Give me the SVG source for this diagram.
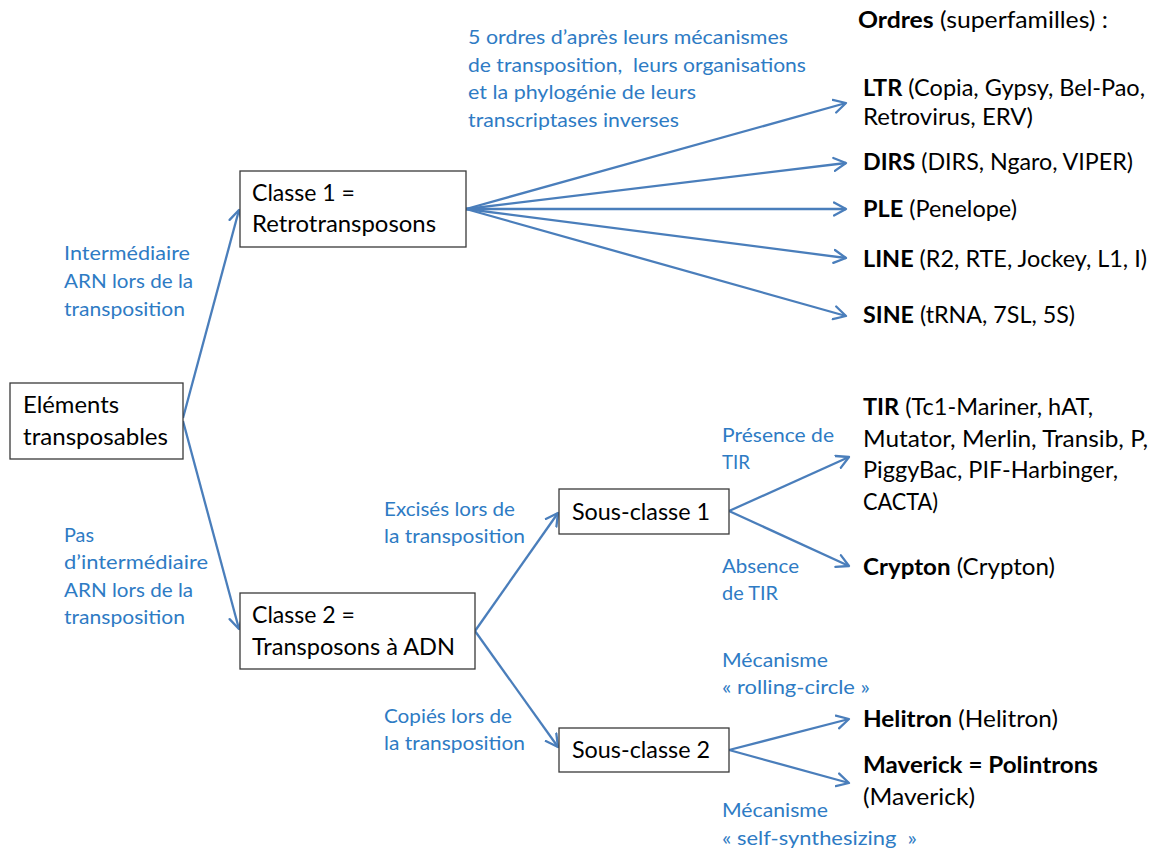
<svg xmlns="http://www.w3.org/2000/svg" width="1155" height="849" viewBox="0 0 1155 849">
  <style>
    .box { fill: #ffffff; stroke: #3a3a3a; stroke-width: 1.3; }
    .t { font-family: Lato, "Open Sans", "Liberation Sans", sans-serif; font-size: 23.5px; fill: #000000; }
    .b { font-weight: bold; }
    .lab { font-family: Lato, "Open Sans", "Liberation Sans", sans-serif; font-size: 20px; fill: #2E7BC4; }
    .conn { stroke: #4A7EBB; stroke-width: 2.3; fill: none; }
  </style>
  <defs>
    <marker id="arrow" markerUnits="userSpaceOnUse" markerWidth="16" markerHeight="16" refX="13" refY="8" orient="auto">
      <path d="M1,1.5 L13,8 L1,14.5" fill="none" stroke="#4A7EBB" stroke-width="2.3" stroke-linecap="round" stroke-linejoin="round"/>
    </marker>
  </defs>
  <rect width="1155" height="849" fill="#ffffff"/>

  <!-- connectors -->
  <g id="connectors" class="conn" marker-end="url(#arrow)">
    <line x1="183" y1="418" x2="239" y2="210"/>
    <line x1="183" y1="421" x2="239" y2="629"/>
    <line x1="466" y1="209" x2="846" y2="103"/>
    <line x1="466" y1="209" x2="846" y2="163"/>
    <line x1="466" y1="209" x2="846" y2="209"/>
    <line x1="466" y1="209" x2="846" y2="258"/>
    <line x1="466" y1="209" x2="846" y2="316"/>
    <line x1="475" y1="631" x2="558" y2="513"/>
    <line x1="475" y1="631" x2="558" y2="747"/>
    <line x1="729" y1="511" x2="849" y2="457"/>
    <line x1="729" y1="511" x2="849" y2="566"/>
    <line x1="729" y1="750" x2="849" y2="719"/>
    <line x1="729" y1="750" x2="849" y2="783"/>
  </g>

  <!-- nodes -->
  <g id="elements">
    <rect class="box" x="10" y="383" width="173" height="76"/>
    <text class="t" x="23" y="413" textLength="96" lengthAdjust="spacingAndGlyphs">Eléments</text>
    <text class="t" x="23" y="445" textLength="145" lengthAdjust="spacingAndGlyphs">transposables</text>
  </g>

  <g id="classe1">
    <rect class="box" x="240" y="171" width="226" height="76"/>
    <text class="t" x="252" y="201" textLength="103" lengthAdjust="spacingAndGlyphs">Classe 1 =</text>
    <text class="t" x="252" y="232" textLength="184" lengthAdjust="spacingAndGlyphs">Retrotransposons</text>
  </g>

  <g id="classe2">
    <rect class="box" x="240" y="593" width="235" height="76"/>
    <text class="t" x="252" y="623" textLength="103" lengthAdjust="spacingAndGlyphs">Classe 2 =</text>
    <text class="t" x="252" y="655" textLength="203" lengthAdjust="spacingAndGlyphs">Transposons à ADN</text>
  </g>

  <g id="sousclasse1">
    <rect class="box" x="559" y="489" width="170" height="45"/>
    <text class="t" x="572" y="520" textLength="138" lengthAdjust="spacingAndGlyphs">Sous-classe 1</text>
  </g>

  <g id="sousclasse2">
    <rect class="box" x="559" y="728" width="170" height="44"/>
    <text class="t" x="572" y="758" textLength="138" lengthAdjust="spacingAndGlyphs">Sous-classe 2</text>
  </g>

  <!-- orders -->
  <g id="ordres-titre">
    <text class="t" x="858" y="28" textLength="250" lengthAdjust="spacingAndGlyphs"><tspan class="b">Ordres</tspan> (superfamilles) :</text>
  </g>
  <g id="ltr">
    <text class="t" x="863" y="96" textLength="282" lengthAdjust="spacingAndGlyphs"><tspan class="b">LTR</tspan> (Copia, Gypsy, Bel-Pao,</text>
    <text class="t" x="863" y="125" textLength="170" lengthAdjust="spacingAndGlyphs">Retrovirus, ERV)</text>
  </g>
  <g id="dirs">
    <text class="t" x="863" y="170" textLength="270" lengthAdjust="spacingAndGlyphs"><tspan class="b">DIRS</tspan> (DIRS, Ngaro, VIPER)</text>
  </g>
  <g id="ple">
    <text class="t" x="863" y="217" textLength="154" lengthAdjust="spacingAndGlyphs"><tspan class="b">PLE</tspan> (Penelope)</text>
  </g>
  <g id="line">
    <text class="t" x="863" y="267" textLength="284" lengthAdjust="spacingAndGlyphs"><tspan class="b">LINE</tspan> (R2, RTE, Jockey, L1, I)</text>
  </g>
  <g id="sine">
    <text class="t" x="863" y="323" textLength="212" lengthAdjust="spacingAndGlyphs"><tspan class="b">SINE</tspan> (tRNA, 7SL, 5S)</text>
  </g>
  <g id="tir">
    <text class="t" x="863" y="415" textLength="230" lengthAdjust="spacingAndGlyphs"><tspan class="b">TIR</tspan> (Tc1-Mariner, hAT,</text>
    <text class="t" x="863" y="447" textLength="285" lengthAdjust="spacingAndGlyphs">Mutator, Merlin, Transib, P,</text>
    <text class="t" x="863" y="478" textLength="255" lengthAdjust="spacingAndGlyphs">PiggyBac, PIF-Harbinger,</text>
    <text class="t" x="863" y="510" textLength="75" lengthAdjust="spacingAndGlyphs">CACTA)</text>
  </g>
  <g id="crypton">
    <text class="t" x="863" y="575" textLength="192" lengthAdjust="spacingAndGlyphs"><tspan class="b">Crypton</tspan> (Crypton)</text>
  </g>
  <g id="helitron">
    <text class="t" x="863" y="727" textLength="195" lengthAdjust="spacingAndGlyphs"><tspan class="b">Helitron</tspan> (Helitron)</text>
  </g>
  <g id="maverick">
    <text class="t b" x="863" y="773" textLength="235" lengthAdjust="spacingAndGlyphs">Maverick = Polintrons</text>
    <text class="t" x="863" y="805" textLength="112" lengthAdjust="spacingAndGlyphs">(Maverick)</text>
  </g>

  <!-- edge labels -->
  <g id="labels">
    <text class="lab" x="468" y="44" textLength="320" lengthAdjust="spacingAndGlyphs">5 ordres d’après leurs mécanismes</text>
    <text class="lab" x="468" y="72" textLength="338" lengthAdjust="spacingAndGlyphs">de transposition,&#160; leurs organisations</text>
    <text class="lab" x="468" y="99" textLength="228" lengthAdjust="spacingAndGlyphs">et la phylogénie de leurs</text>
    <text class="lab" x="468" y="127" textLength="211" lengthAdjust="spacingAndGlyphs">transcriptases inverses</text>

    <text class="lab" x="64" y="260" textLength="126" lengthAdjust="spacingAndGlyphs">Intermédiaire</text>
    <text class="lab" x="64" y="288" textLength="129" lengthAdjust="spacingAndGlyphs">ARN lors de la</text>
    <text class="lab" x="64" y="316" textLength="121" lengthAdjust="spacingAndGlyphs">transposition</text>

    <text class="lab" x="64" y="542" textLength="30" lengthAdjust="spacingAndGlyphs">Pas</text>
    <text class="lab" x="64" y="569" textLength="144" lengthAdjust="spacingAndGlyphs">d’intermédiaire</text>
    <text class="lab" x="64" y="597" textLength="129" lengthAdjust="spacingAndGlyphs">ARN lors de la</text>
    <text class="lab" x="64" y="624" textLength="121" lengthAdjust="spacingAndGlyphs">transposition</text>

    <text class="lab" x="384" y="516" textLength="131" lengthAdjust="spacingAndGlyphs">Excisés lors de</text>
    <text class="lab" x="384" y="543" textLength="141" lengthAdjust="spacingAndGlyphs">la transposition</text>

    <text class="lab" x="384" y="723" textLength="128" lengthAdjust="spacingAndGlyphs">Copiés lors de</text>
    <text class="lab" x="384" y="750" textLength="141" lengthAdjust="spacingAndGlyphs">la transposition</text>

    <text class="lab" x="722" y="442" textLength="112" lengthAdjust="spacingAndGlyphs">Présence de</text>
    <text class="lab" x="722" y="469" textLength="28" lengthAdjust="spacingAndGlyphs">TIR</text>

    <text class="lab" x="722" y="573" textLength="77" lengthAdjust="spacingAndGlyphs">Absence</text>
    <text class="lab" x="722" y="600" textLength="56" lengthAdjust="spacingAndGlyphs">de TIR</text>

    <text class="lab" x="722" y="667" textLength="106" lengthAdjust="spacingAndGlyphs">Mécanisme</text>
    <text class="lab" x="722" y="694" textLength="148" lengthAdjust="spacingAndGlyphs">« rolling-circle »</text>

    <text class="lab" x="722" y="817" textLength="106" lengthAdjust="spacingAndGlyphs">Mécanisme</text>
    <text class="lab" x="722" y="845" textLength="195" lengthAdjust="spacingAndGlyphs">« self-synthesizing&#160; »</text>
  </g>
</svg>
